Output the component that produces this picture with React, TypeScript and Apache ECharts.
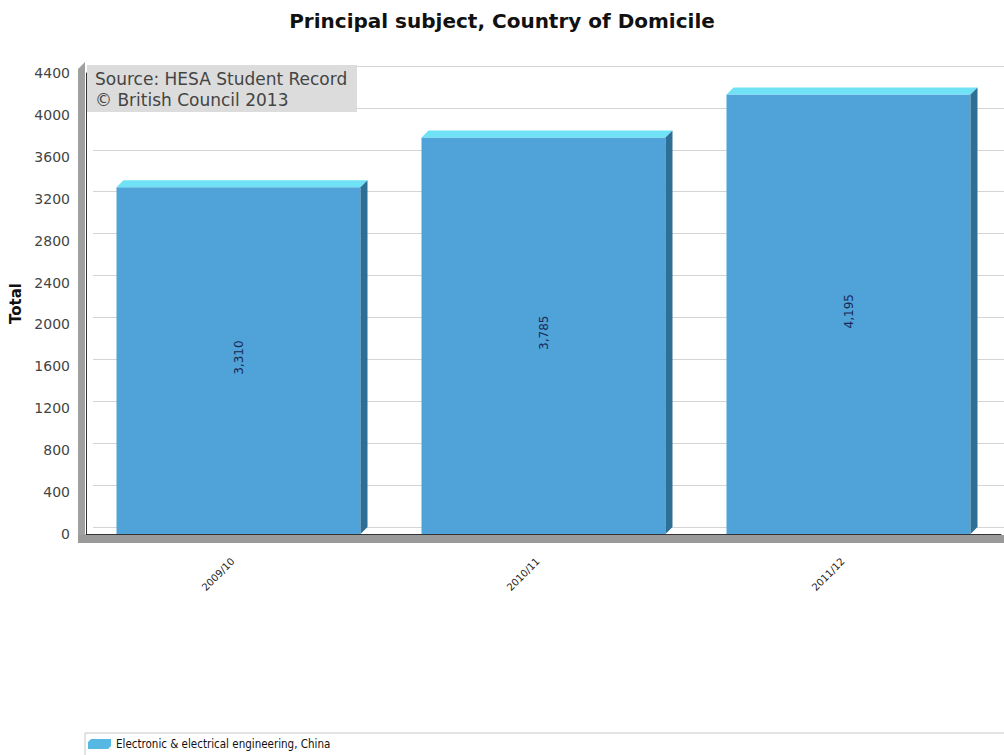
import React, { useEffect, useRef } from "react";
import * as echarts from "echarts";

const categories = ["2009/10", "2010/11", "2011/12"];
const values = [3310, 3785, 4195];
const seriesName = "Electronic & electrical engineering, China";
const titleText = "Principal subject, Country of Domicile";
const sourceLines = ["Source: HESA Student Record", "© British Council 2013"];
const yMax = 4400;
const yInterval = 400;

const FRONT = "#4fa3d8";
const TOP = "#6fe2f6";
const SIDE = "#2e6f95";
const DEPTH = 7;

export default function App() {
  const ref = useRef<HTMLDivElement>(null);
  useEffect(() => {
    if (!ref.current) return;
    const chart = echarts.init(ref.current, undefined, { renderer: "svg" });
    const fontFamily = "DejaVu Sans, sans-serif";
    chart.setOption({
      animation: false,
      backgroundColor: "#ffffff",
      title: {
        text: titleText,
        left: "center",
        top: 6,
        textStyle: { fontFamily, fontSize: 20, fontWeight: "bold", color: "#111" },
      },
      legend: {
        left: 88,
        top: 738,
        padding: 0,
        itemWidth: 23,
        itemHeight: 10,
        itemGap: 6,
        icon: "path://M0,3 L3,0 L23,0 L20,3 Z M0,3 L20,3 L20,10 L0,10 Z M20,3 L23,0 L23,7 L20,10 Z",
        textStyle: { fontFamily: "DejaVu Sans Condensed, sans-serif", fontSize: 11.5, color: "#111" },
        data: [{ name: seriesName, itemStyle: { color: "#58b8e4" } }],
      },
      grid: [
        { left: 86, top: 73, width: 915, height: 461, containLabel: false, outerBoundsMode: "none" },
        { left: 93, top: 66, width: 915, height: 461, containLabel: false, outerBoundsMode: "none" },
      ],
      xAxis: [
        {
          type: "category",
          gridIndex: 0,
          data: categories,
          axisLine: { show: true, lineStyle: { color: "#333", width: 1 } },
          axisTick: { show: false },
          axisLabel: {
            rotate: 45,
            margin: 20,
            padding: [0, 8, 0, 0],
            fontFamily,
            fontSize: 10,
            color: "#222",
          },
          splitLine: { show: false },
          z: 5,
        },
        {
          type: "category",
          gridIndex: 1,
          data: categories,
          show: false,
        },
      ],
      yAxis: [
        {
          type: "value",
          gridIndex: 0,
          min: 0,
          max: yMax,
          interval: yInterval,
          name: "Total",
          nameLocation: "middle",
          nameGap: 62,
          nameTextStyle: { fontFamily, fontSize: 15, fontWeight: "bold", color: "#111" },
          axisLine: { show: true, lineStyle: { color: "#333", width: 1 } },
          axisTick: { show: false },
          axisLabel: {
            margin: 16,
            fontFamily,
            fontSize: 14,
            color: "#444",
            formatter: (v: number) => String(v),
          },
          splitLine: { show: false },
          z: 5,
        },
        {
          type: "value",
          gridIndex: 1,
          min: 0,
          max: yMax,
          interval: yInterval,
          axisLine: { show: false },
          axisTick: { show: false },
          axisLabel: { show: false },
          splitLine: { show: true, lineStyle: { color: "#d4d4d4", width: 1 } },
        },
      ],
      graphic: [
        {
          type: "polygon",
          z: 1,
          shape: { points: [[78, 69], [85, 62], [85, 543], [78, 543]] },
          style: { fill: "#a0a0a0" },
        },
        {
          type: "rect",
          z: 1,
          shape: { x: 78, y: 535, width: 930, height: 8 },
          style: { fill: "#9a9a9a" },
        },
        {
          type: "rect",
          z: 10,
          shape: { x: 87, y: 65, width: 270, height: 47 },
          style: { fill: "#dcdcdc" },
        },
        {
          type: "text",
          z: 11,
          x: 95,
          y: 68,
          style: {
            text: sourceLines.join("\n"),
            font: "17px DejaVu Sans, sans-serif",
            fill: "#444",
            lineHeight: 21,
          },
        },
        {
          type: "polyline",
          z: 1,
          shape: { points: [[85, 1000], [85, 733], [1010, 733]] },
          style: { stroke: "#c8c8c8", lineWidth: 1, fill: null },
        },
      ],
      series: [
        {
          name: seriesName,
          type: "custom",
          xAxisIndex: 0,
          yAxisIndex: 0,
          z: 3,
          itemStyle: { color: FRONT },
          data: categories.map((c, i) => [i, values[i]]),
          renderItem: (params: any, api: any) => {
            const idx = api.value(0);
            const v = api.value(1);
            const top = api.coord([idx, v]);
            const base = api.coord([idx, 0]);
            const bw = api.size([1, 0])[0] * 0.8;
            const x0 = top[0] - bw / 2;
            const x1 = top[0] + bw / 2;
            const d = DEPTH;
            return {
              type: "group",
              children: [
                {
                  type: "rect",
                  shape: { x: x0, y: top[1], width: bw, height: base[1] - top[1] },
                  style: { fill: FRONT },
                },
                {
                  type: "polygon",
                  shape: { points: [[x0, top[1]], [x0 + d, top[1] - d], [x1 + d, top[1] - d], [x1, top[1]]] },
                  style: { fill: TOP },
                },
                {
                  type: "polygon",
                  shape: { points: [[x1, top[1]], [x1 + d, top[1] - d], [x1 + d, base[1] - d], [x1, base[1]]] },
                  style: { fill: SIDE },
                },
                {
                  type: "text",
                  x: top[0],
                  y: (top[1] + base[1]) / 2 - 3,
                  rotation: Math.PI / 2,
                  style: {
                    text: v.toLocaleString("en-US"),
                    font: "12px DejaVu Sans, sans-serif",
                    fill: "#1b2a55",
                    align: "center",
                    verticalAlign: "middle",
                  },
                },
              ],
            };
          },
        },
      ],
    });
    return () => chart.dispose();
  }, []);
  return (
    <div
      ref={ref}
      style={{ position: "fixed", left: 0, top: 0, width: 1004, height: 755 }}
    />
  );
}
